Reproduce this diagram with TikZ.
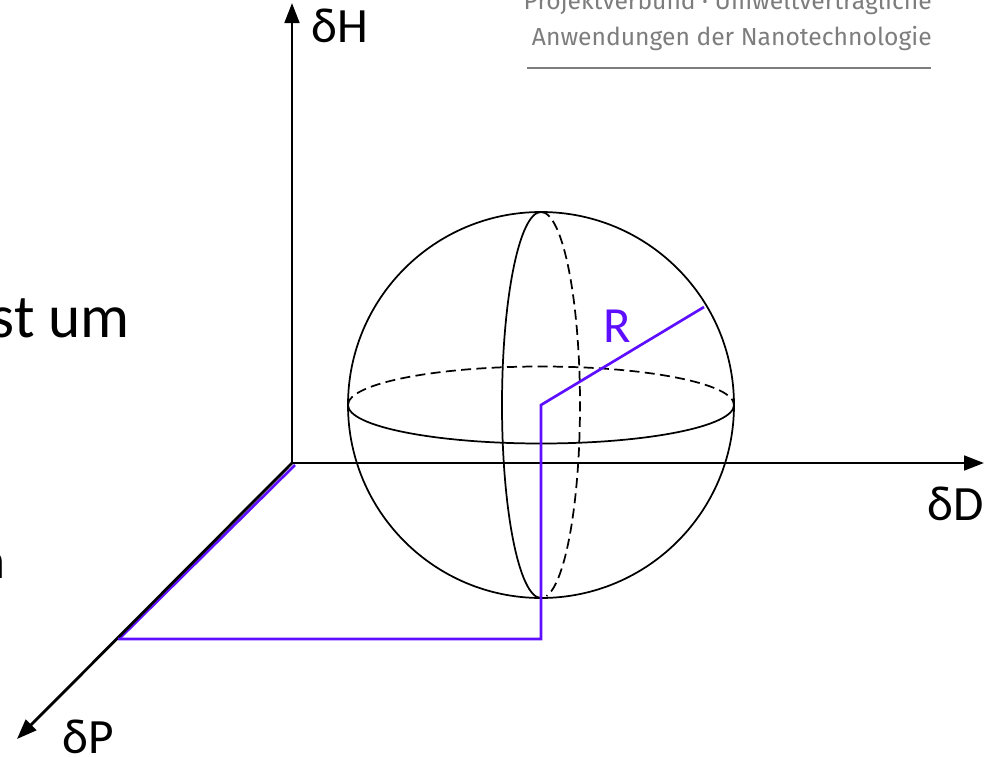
\documentclass[tikz,border=0pt]{standalone}
\usepackage{fontspec}
\setmainfont{Carlito}
\newfontfamily\headfont{Fira Sans}
\usetikzlibrary{arrows.meta,calc}
\definecolor{rpurple}{RGB}{95,15,255}
\definecolor{headgray}{RGB}{125,125,125}
\tikzset{
  axis/.style={line width=2.1pt,-{Triangle[length=15pt,width=11pt]}},
  sph/.style={line width=1.3pt},
  sphdash/.style={line width=1.3pt,dash pattern=on 7.5pt off 4pt},
  rline/.style={line width=2pt,rpurple},
  axlabel/.style={font=\fontsize{37}{40}\selectfont,inner sep=0pt},
  headtext/.style={text=headgray,font=\headfont\fontsize{18.5}{22}\selectfont,anchor=base east,inner sep=0pt},
}
\begin{document}
\begin{tikzpicture}[x=0.75pt,y=-0.75pt]
\useasboundingbox (0,0) rectangle (990,757);
% header
\node[headtext] (h1) at (932,9) {Projektverbund · Umweltverträgliche};
\node[headtext] (h2) at (932,45) {Anwendungen der Nanotechnologie};
\coordinate (hl1) at (527,68);
\coordinate (hl2) at (931,68);
\draw[headgray,line width=1.2pt] (hl1) -- (hl2);
% left body text fragments
\node[anchor=base east,inner sep=0pt,font=\fontsize{46}{52}\selectfont] (t1) at (130,337) {ist um};
\node[anchor=base east,inner sep=0pt,font=\fontsize{40}{46}\selectfont] (t2) at (6,578) {n};
% coordinates
\coordinate (O) at (292,463);
\coordinate (Htip) at (292,3);
\coordinate (Dtip) at (984,463);
\coordinate (Ptip) at (17,739);
\coordinate (C) at (541,405);
\coordinate (Pfoot) at (118,639);
\coordinate (Cfoot) at (541,639);
\coordinate (Rend) at (704,307);
% purple path along P axis
\draw[rline] ($(O)+(3,2)$) -- ($(Pfoot)+(1,0)$);
% sphere
\draw[sph] (C) circle[radius=193];
\draw[sph] (C) ++(193,0) arc[start angle=0,end angle=180,x radius=193,y radius=38.5];
\draw[sphdash] (C) ++(-193,0) arc[start angle=180,end angle=360,x radius=193,y radius=38.5];
\draw[sph] (C) ++(0,-193) arc[start angle=270,end angle=90,x radius=39,y radius=193];
\draw[sphdash] (C) ++(0,-193) arc[start angle=-90,end angle=82,x radius=39,y radius=193];
% axes
\draw[axis] (O) -- (Htip);
\draw[axis] (O) -- (Dtip);
\draw[axis] (O) -- (Ptip);
% purple radius construction
\draw[rline,line join=miter] (Pfoot) -- (Cfoot) -- (C) -- (Rend);
\node[text=rpurple,inner sep=0pt,font=\fontsize{38}{40}\selectfont] (R) at (617,326) {R};
% axis labels
\node[axlabel] (lH) at (340,26) {δH};
\node[axlabel] (lD) at (956,504) {δD};
\node[axlabel] (lP) at (88,737) {δP};
\end{tikzpicture}
\end{document}
